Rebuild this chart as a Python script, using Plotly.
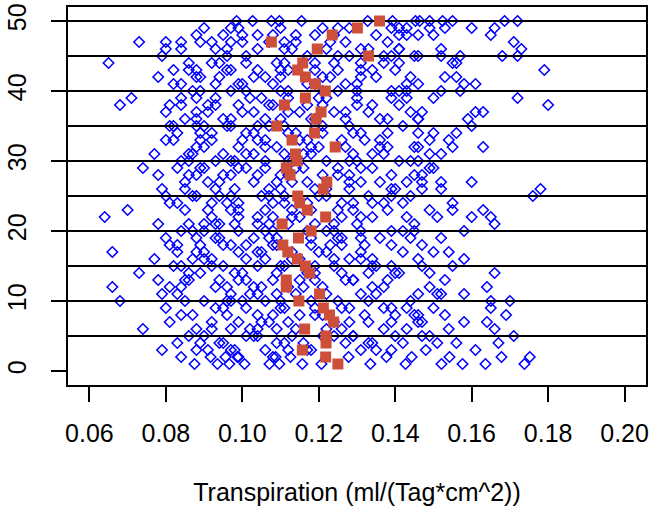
import plotly.graph_objects as go

# ---- data -----------------------------------------------------------------
days = list(range(1, 51))

# daily mean transpiration (red squares)
mean_transp = [0.1250, 0.1218, 0.1157, 0.1219, 0.1219, 0.1163, 0.1239, 0.1228, 0.1212, 0.1148,
               0.1202, 0.1115, 0.1115, 0.1176, 0.1165, 0.1144, 0.1119, 0.1106, 0.1147, 0.1180,
               0.1104, 0.1218, 0.1170, 0.1150, 0.1145, 0.1212, 0.1221, 0.1125, 0.1115, 0.1143,
               0.1139, 0.1243, 0.1130, 0.1189, 0.1090, 0.1193, 0.1206, 0.1110, 0.1165, 0.1217,
               0.1191, 0.1165, 0.1145, 0.1158, 0.1330, 0.1196, 0.1076, 0.1235, 0.1301, 0.1359]

# individual measurements per day (blue diamonds), values in ml/(Tag*cm^2) x 1000
individual_x1000 = [
    [87.5, 93.5, 96.6, 100.6, 107.1, 109.7, 115.7, 120.7, 133.5, 142.7, 152.1, 157.6, 163.6, 173.8],  # 1
    [84, 91.7, 95.6, 98.7, 99, 108, 108.7, 112.6, 127.8, 137.7, 144.3, 154.2, 167.8, 175.2],          # 2
    [79, 88, 91, 97, 98, 106, 112, 117, 118, 131, 135, 148, 161, 139],                                  # 3
    [83, 89, 94, 95, 109, 111, 116, 127, 133, 134, 142, 156, 167, 151],                                 # 4
    [86, 90, 101, 103, 104, 113, 121, 124, 129, 140, 147, 149, 171, 129],                               # 5
    [74, 88, 92, 97, 104, 102, 109, 114, 122, 126, 137, 143, 154, 166],                                 # 6
    [81, 92, 99, 105, 107, 112, 124, 128, 133, 139, 146, 158, 164, 147],                                # 7
    [84, 87, 96, 104, 108, 115, 119, 121, 132, 140, 145, 153, 169, 146],                                # 8
    [80, 93, 95, 101, 110, 111, 119, 126, 128, 137, 143, 150, 165, 139],                                # 9
    [68, 85, 90, 96, 97, 100, 106, 110, 118, 125, 133, 144, 170, 165],                                  # 10
    [79, 83, 97, 102, 104, 109, 114, 122, 131, 135, 146, 152, 158, 151],                                # 11
    [66, 81, 84, 93, 96, 103, 105, 112, 116, 121, 134, 137, 149, 164],                                  # 12
    [78, 85, 86, 94, 99, 101, 108, 115, 119, 127, 129, 138, 153, 129],                                  # 13
    [73, 86, 89, 98, 100, 109, 117, 119, 126, 133, 141, 149, 166, 140],                                 # 14
    [82, 84, 92, 95, 104, 110, 111, 119, 124, 135, 139, 147, 155, 134],                                 # 15
    [77, 87, 90, 92, 101, 106, 113, 115, 124, 128, 131, 146, 158, 134],                                 # 16
    [66, 83, 88, 90, 99, 104, 105, 113, 120, 122, 131, 142, 150, 154],                                  # 17
    [81, 83, 89, 95, 97, 101, 108, 109, 118, 123, 126, 139, 147, 132],                                  # 18
    [80, 88, 93, 94, 103, 107, 109, 118, 125, 126, 136, 144, 152, 131],                                 # 19
    [84, 87, 90, 99, 106, 108, 117, 122, 124, 131, 142, 145, 158, 139],                                 # 20
    [78, 86, 90, 94, 93, 98, 104, 107, 112, 119, 124, 130, 145, 166],                                   # 21
    [64, 92, 99, 104, 108, 113, 115, 126, 131, 134, 143, 151, 160, 165],                                # 22
    [70, 85, 91, 97, 99, 106, 113, 118, 125, 129, 138, 149, 163, 155],                                  # 23
    [81, 83, 92, 96, 99, 108, 111, 117, 126, 129, 134, 142, 155, 137],                                  # 24
    [80, 87, 88, 94, 97, 105, 107, 111, 120, 122, 133, 139, 176, 144],                                  # 25
    [79, 85, 93, 98, 107, 110, 119, 122, 128, 139, 140, 147, 178, 152],                                 # 26
    [85, 91, 94, 103, 109, 113, 117, 128, 131, 136, 147, 152, 160, 143],                                # 27
    [78, 86, 88, 95, 97, 104, 110, 112, 121, 125, 128, 139, 147, 145],                                  # 28
    [74, 83, 89, 90, 99, 101, 106, 114, 116, 125, 131, 134, 149, 150],                                  # 29
    [84, 86, 93, 97, 98, 106, 112, 113, 122, 128, 130, 141, 146, 144],                                  # 30
    [77, 86, 87, 95, 101, 103, 111, 116, 118, 129, 134, 137, 152, 149],                                 # 31
    [88, 90, 99, 106, 109, 118, 120, 127, 136, 138, 145, 155, 163, 146],                                # 32
    [80, 82, 89, 92, 100, 104, 106, 115, 117, 126, 132, 136, 149, 154],                                 # 33
    [83, 89, 92, 101, 103, 112, 114, 121, 129, 131, 138, 150, 156, 146],                                # 34
    [81, 82, 88, 90, 96, 97, 104, 107, 111, 119, 121, 128, 142, 160],                                   # 35
    [85, 88, 95, 97, 106, 110, 118, 119, 127, 136, 138, 146, 159, 146],                                 # 36
    [80, 88, 91, 100, 103, 112, 115, 124, 127, 133, 144, 147, 161, 163],                                # 37
    [68, 81, 84, 91, 93, 99, 107, 108, 117, 121, 130, 134, 180, 141],                                   # 38
    [71, 84, 88, 93, 102, 105, 112, 120, 122, 130, 139, 143, 172, 150],                                 # 39
    [87, 89, 97, 101, 110, 112, 121, 125, 130, 139, 141, 152, 157, 143],                                # 40
    [82, 84, 93, 99, 100, 108, 117, 119, 127, 130, 143, 146, 158, 161],                                 # 41
    [78, 88, 89, 94, 103, 106, 110, 121, 123, 131, 135, 144, 156, 153],                                 # 42
    [82, 86, 88, 96, 97, 104, 110, 112, 119, 125, 131, 134, 179, 140],                                  # 43
    [65, 86, 92, 94, 101, 109, 111, 119, 124, 131, 137, 141, 155, 156],                                 # 44
    [79, 96, 101, 117, 125, 128, 137, 139, 145, 146, 152, 157, 168, 172],                               # 45
    [80, 84, 93, 96, 104, 111, 113, 122, 131, 133, 141, 152, 173, 141],                                 # 46
    [73, 80, 84, 89, 92, 97, 100, 107, 111, 114, 123, 127, 138, 171],                                   # 47
    [88, 95, 100, 104, 108, 114, 119, 124, 135, 141, 143, 146, 150, 165],                               # 48
    [90, 97, 99, 110, 121, 125, 128, 139, 143, 149, 153, 160, 166, 141],                                # 49
    [98.5, 102.7, 107.6, 109.7, 115.5, 132.8, 139.3, 145.3, 146.4, 149.0, 152.4, 155.0, 168.6, 172.0], # 50
]

x_ticks = [0.06, 0.08, 0.10, 0.12, 0.14, 0.16, 0.18, 0.20]
x_ticklabels = ["0.06", "0.08", "0.10", "0.12", "0.14", "0.16", "0.18", "0.20"]
y_ticks = [0, 10, 20, 30, 40, 50]
y_ticklabels = ["0", "10", "20", "30", "40", "50"]
h_lines = [5, 10, 15, 20, 25, 30, 35, 40, 45, 50]

x_range = [0.0544, 0.2056]
y_range = [-2.0, 52.0]

x_title = "Transpiration (ml/(Tag*cm^2))"
FONT = "Liberation Sans, Arial, sans-serif"

# ---- figure ---------------------------------------------------------------
blue_x, blue_y = [], []
for d, row in zip(days, individual_x1000):
    for v in row:
        blue_x.append(v / 1000.0)
        blue_y.append(d)

fig = go.Figure()

fig.add_trace(go.Scatter(x=blue_x, y=blue_y, mode="markers",
                         marker=dict(symbol="diamond-open", size=8, color="#0000FF",
                                     line=dict(width=1.6, color="#0000FF")),
                         showlegend=False))

lx, ly = [], []
for h in h_lines:
    lx += [x_range[0], x_range[1], None]
    ly += [h, h, None]
fig.add_trace(go.Scatter(x=lx, y=ly, mode="lines",
                         line=dict(color="black", width=2), hoverinfo="skip",
                         showlegend=False))

fig.add_trace(go.Scatter(x=mean_transp, y=days, mode="markers",
                         marker=dict(symbol="square", size=11, color="#CD4F39",
                                     line=dict(width=0)),
                         showlegend=False))

fig.update_layout(
    width=652, height=510,
    margin=dict(l=68, r=6, t=7, b=125, autoexpand=False),
    plot_bgcolor="white", paper_bgcolor="white",
    font=dict(family=FONT, size=25, color="black"),
    showlegend=False,
)
fig.update_xaxes(range=x_range, tickvals=x_ticks, ticktext=x_ticklabels,
                 automargin=False,
                 showgrid=False, zeroline=False, showline=True, mirror=True,
                 linecolor="black", linewidth=2, ticks="outside", ticklen=15,
                 tickwidth=2, tickcolor="black", ticklabelstandoff=10,
                 title=dict(text=x_title, standoff=37, font=dict(size=25)))
fig.update_yaxes(range=y_range, tickvals=y_ticks, ticktext=y_ticklabels,
                 automargin=False,
                 showgrid=False, zeroline=False, showline=True, mirror=True,
                 linecolor="black", linewidth=2, ticks="outside", ticklen=15,
                 tickwidth=2, tickcolor="black", tickangle=-90,
                 ticklabelstandoff=15)

fig.write_html("out.html", config={"displayModeBar": False},
               post_script="document.body.style.margin='0';")
